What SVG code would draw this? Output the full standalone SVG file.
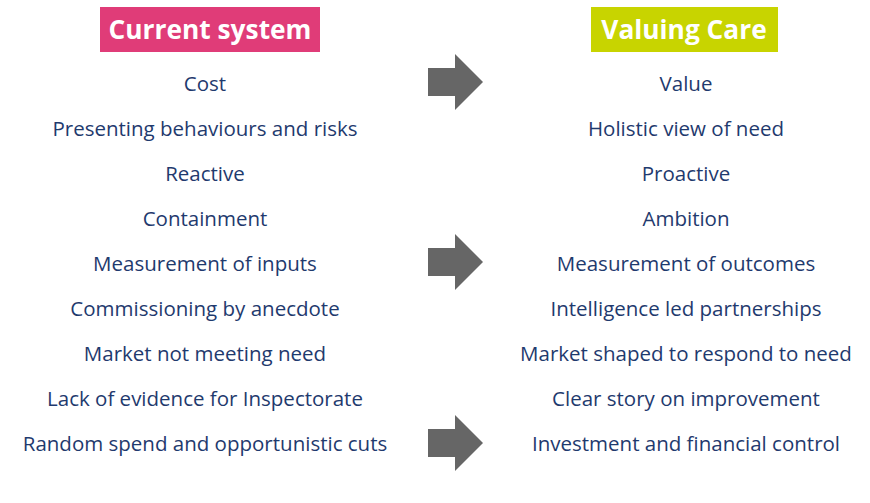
<svg xmlns="http://www.w3.org/2000/svg" width="870" height="503" viewBox="0 0 870 503">
<style>
.t{font-family:"Open Sans","Noto Sans","Liberation Sans",sans-serif;font-size:20.5px;fill:#1F3A6E;text-anchor:middle}
.h{font-family:"Open Sans","Noto Sans","Liberation Sans",sans-serif;font-size:26.3px;font-weight:bold;fill:#fff;text-anchor:middle}
.a{fill:#666666}
</style>
<rect width="870" height="503" fill="#fff"/>
<g id="current-header"><rect x="100" y="7" width="220" height="45" fill="#E03C78"/><text class="h" x="210" y="39">Current system</text></g>
<g id="valuing-header"><rect x="591" y="7" width="187" height="45" fill="#C8D400"/><text class="h" x="684" y="39">Valuing Care</text></g>
<g id="connectors">
<polygon class="a" points="428,68 455,68 455,54 483,82 455,110 455,96 428,96"/>
<polygon class="a" points="428,248 455,248 455,234 483,262 455,290 455,276 428,276"/>
<polygon class="a" points="428,429 455,429 455,415 483,443 455,471 455,457 428,457"/>
</g>
<g id="left">
<text class="t" x="205" y="91">Cost</text>
<text class="t" x="205" y="136">Presenting behaviours and risks</text>
<text class="t" x="205" y="181">Reactive</text>
<text class="t" x="205" y="226">Containment</text>
<text class="t" x="205" y="271">Measurement of inputs</text>
<text class="t" x="205" y="316">Commissioning by anecdote</text>
<text class="t" x="205" y="361">Market not meeting need</text>
<text class="t" x="205" y="406">Lack of evidence for Inspectorate</text>
<text class="t" x="205" y="451">Random spend and opportunistic cuts</text>
</g>
<g id="right">
<text class="t" x="686" y="91">Value</text>
<text class="t" x="686" y="136">Holistic view of need</text>
<text class="t" x="686" y="181">Proactive</text>
<text class="t" x="686" y="226">Ambition</text>
<text class="t" x="686" y="271">Measurement of outcomes</text>
<text class="t" x="686" y="316">Intelligence led partnerships</text>
<text class="t" x="686" y="361">Market shaped to respond to need</text>
<text class="t" x="686" y="406">Clear story on improvement</text>
<text class="t" x="686" y="451">Investment and financial control</text>
</g>
</svg>
